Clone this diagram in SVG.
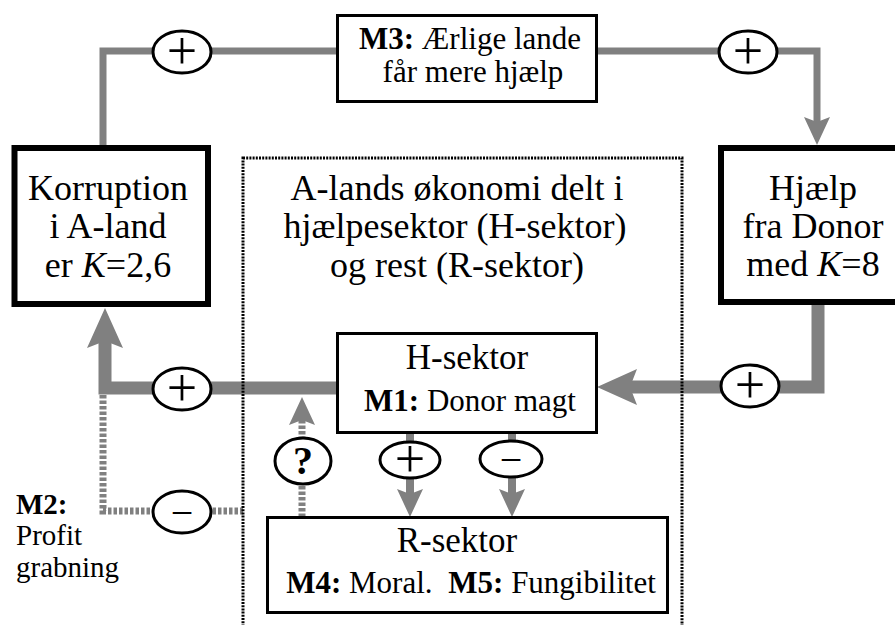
<svg xmlns="http://www.w3.org/2000/svg" width="895" height="625" viewBox="0 0 895 625">
<defs>
<style>
text{font-family:"Liberation Serif","Times New Roman",serif;fill:#000;text-anchor:middle}
.big{font-size:36px}
.mid{font-size:35px}
.sm{font-size:31px}
.m2{font-size:29px;text-anchor:start}
.b{font-weight:bold}
.i{font-style:italic}
.box{fill:#fff;stroke:#000;stroke-width:3}
.thick{fill:#fff;stroke:#000;stroke-width:6}
.con{fill:none;stroke:#808080;stroke-linejoin:miter;stroke-linecap:butt}
.w7{stroke-width:7}
.w13{stroke-width:13}
.w8{stroke-width:8}
.dash{stroke-dasharray:3.5 2}
.sign{fill:#fff;stroke:#000;stroke-width:3}
.pl{font-size:54px}
.mi{font-size:40px}
.dot{fill:none;stroke:#000;stroke-width:3;stroke-dasharray:2 1.2}
</style>
<marker id="ahT" markerUnits="userSpaceOnUse" markerWidth="40" markerHeight="36" refX="10" refY="18" orient="auto" viewBox="0 0 40 36">
<path d="M0,0 L40,18 L0,36 L7,18 Z" fill="#808080"/>
</marker>
<marker id="ahS" markerUnits="userSpaceOnUse" markerWidth="28" markerHeight="26" refX="8" refY="13" orient="auto" viewBox="0 0 28 26">
<path d="M0,0 L28,13 L0,26 L5,13 Z" fill="#808080"/>
</marker>
</defs>
<rect width="895" height="625" fill="#fff"/>

<g id="connectors">
<path class="con w7" d="M103,145 V51 H337"/>
<path class="con w7" d="M598,51 H817 V125" marker-end="url(#ahS)"/>
<path class="con w13" d="M818,305 V387 H627" marker-end="url(#ahT)"/>
<path class="con w13" d="M337,388 H105 V338" marker-end="url(#ahT)"/>
<path class="con w7 dash" d="M103,395 V511 H243"/>
<path class="con w7 dash" d="M302,517 V417" marker-end="url(#ahS)"/>
<path class="con w8" d="M410,433 V497" marker-end="url(#ahS)"/>
<path class="con w8" d="M512,433 V497" marker-end="url(#ahS)"/>
</g>

<g id="signs">
<g id="s1"><ellipse class="sign" cx="182" cy="52" rx="29" ry="21"/><text class="pl" x="182" y="69">+</text></g>
<g id="s2"><ellipse class="sign" cx="748" cy="52" rx="29" ry="21"/><text class="pl" x="748" y="69">+</text></g>
<g id="s3"><ellipse class="sign" cx="182" cy="389" rx="29" ry="21"/><text class="pl" x="182" y="406">+</text></g>
<g id="s4"><ellipse class="sign" cx="750" cy="386" rx="29" ry="21"/><text class="pl" x="750" y="403">+</text></g>
<g id="s5"><ellipse class="sign" cx="182" cy="512" rx="29" ry="21"/><text class="mi" x="182" y="526">−</text></g>
<g id="s6"><ellipse class="sign" cx="303" cy="461" rx="28" ry="23"/><text class="b" style="font-size:40px" x="303" y="474">?</text></g>
<g id="s7"><ellipse class="sign" cx="410" cy="460" rx="30" ry="18"/><text class="pl" x="410" y="477">+</text></g>
<g id="s8"><ellipse class="sign" cx="511" cy="459" rx="31" ry="18"/><text class="mi" x="511" y="473">−</text></g>
</g>

<g id="economy">
<rect class="dot" x="243" y="158" width="439" height="480"/>
<text class="big" x="457" y="200">A-lands økonomi delt i</text>
<text class="big" x="455" y="238">hjælpesektor (H-sektor)</text>
<text class="big" x="457" y="277">og rest (R-sektor)</text>
</g>

<g id="korruption">
<rect class="thick" x="14.5" y="148" width="193.5" height="156"/>
<text class="big" x="108" y="200">Korruption</text>
<text class="big" x="108" y="238">i A-land</text>
<text class="big" x="108" y="277">er <tspan class="i">K</tspan>=2,6</text>
</g>

<g id="hjaelp">
<rect class="thick" x="721" y="148" width="200" height="154"/>
<text class="big" x="813" y="200">Hjælp</text>
<text class="big" x="813" y="238">fra Donor</text>
<text class="big" x="813" y="276">med <tspan class="i">K</tspan>=8</text>
</g>

<g id="m3">
<rect class="box" x="337.5" y="15.5" width="259" height="86"/>
<text class="sm" x="470" y="49"><tspan class="b">M3:</tspan> Ærlige lande</text>
<text class="sm" x="473" y="82">får mere hjælp</text>
</g>

<g id="hsektor">
<rect class="box" x="337.5" y="333.5" width="259" height="99"/>
<text class="mid" x="467" y="369">H-sektor</text>
<text class="sm" x="470" y="411"><tspan class="b">M1:</tspan> Donor magt</text>
</g>

<g id="rsektor">
<rect class="box" x="267.5" y="517.5" width="400" height="95"/>
<text class="mid" x="457" y="552">R-sektor</text>
<text class="sm" x="471" y="593"><tspan class="b">M4:</tspan> Moral. <tspan class="b" dx="8">M5:</tspan> Fungibilitet</text>
</g>

<g id="m2">
<text class="m2 b" x="16" y="514">M2:</text>
<text class="m2" x="16" y="545">Profit</text>
<text class="m2" x="16" y="577">grabning</text>
</g>
</svg>
